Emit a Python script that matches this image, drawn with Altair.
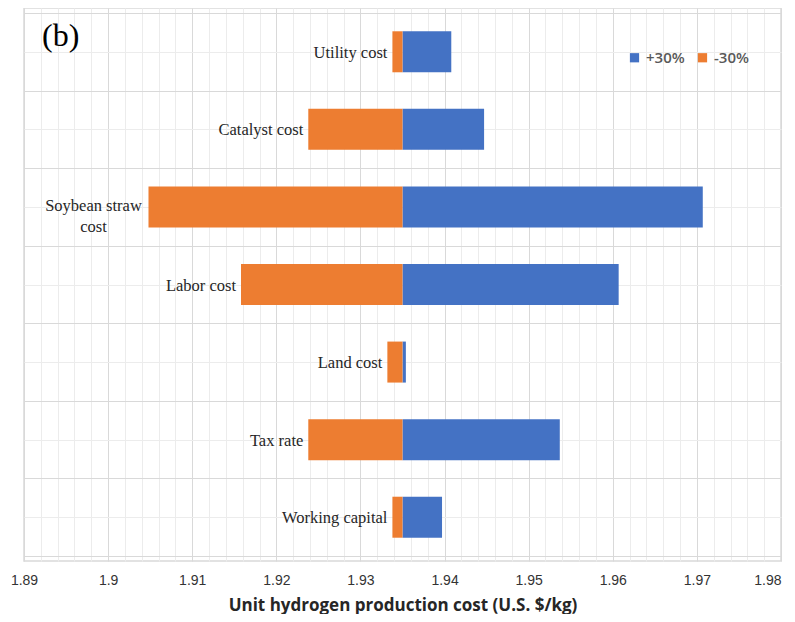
import altair as alt
import pandas as pd

# ---- data ----
categories = ["Utility cost", "Catalyst cost", "Soybean straw cost", "Labor  cost",
              "Land cost", "Tax rate", "Working capital"]
base_cost = 1.935
plus30 = [1.9408, 1.9447, 1.9707, 1.9607, 1.9354, 1.9537, 1.9397]
minus30 = [1.9338, 1.9238, 1.9048, 1.9158, 1.9332, 1.9238, 1.9338]
series_names = ["+30%", "-30%"]
series_colors = ["#4472C4", "#ED7D31"]

rows = []
for i, c in enumerate(categories):
    rows.append({"cat": c, "idx": i, "series": "+30%", "start": base_cost, "end": plus30[i]})
    rows.append({"cat": c, "idx": i, "series": "-30%", "start": base_cost, "end": minus30[i]})
bars_df = pd.DataFrame(rows)
lab_df = pd.DataFrame({"cat": categories, "idx": list(range(len(categories))),
                       "low": [min(a, b) for a, b in zip(plus30, minus30)]})

x_ticks = [round(1.89 + k * 0.002, 3) for k in range(46)]
y_ticks = [k * 0.5 for k in range(15)]
major_x = "abs(datum.value*100 - round(datum.value*100)) < 0.001"

x_scale = alt.Scale(domain=[1.89, 1.98], nice=False, zero=False)
y_scale = alt.Scale(domain=[0, 7], reverse=True, nice=False, zero=False)

x_axis = alt.Axis(values=x_ticks, tickCount=200, ticks=False, domain=False, labelFlush=False,
                  labelOverlap=False,
                  labelExpr=major_x + " ? toString(round(datum.value*100)/100) : ''",
                  labelAlign={"condition": {"test": "datum.value > 1.979", "value": "right"},
                              "value": "center"},
                  gridColor={"condition": {"test": major_x, "value": "#d9d9d9"}, "value": "#ececec"},
                  labelFont="Liberation Sans", labelFontSize=14, labelColor="#333333",
                  labelPadding=12,
                  title="Unit hydrogen production cost (U.S. $/kg)", titleFont="Open Sans",
                  titleFontSize=17, titleFontWeight="bold", titleColor="#262626", titlePadding=10)
y_axis = alt.Axis(values=y_ticks, tickCount=100, ticks=False, domain=False, labels=False, title=None,
                  gridColor={"condition": {"test": "datum.value % 1 == 0", "value": "#d9d9d9"},
                             "value": "#ececec"})

bars = alt.Chart(bars_df).transform_calculate(pos="datum.idx + 0.5").mark_bar(size=41).encode(
    x=alt.X("start:Q", scale=x_scale, axis=x_axis),
    x2="end:Q",
    y=alt.Y("pos:Q", scale=y_scale, axis=y_axis),
    color=alt.Color("series:N", scale=alt.Scale(domain=series_names, range=series_colors),
                    legend=alt.Legend(title=None, orient="none", legendX=603, legendY=42,
                                      direction="horizontal", symbolType="square", symbolSize=85,
                                      labelFont="Open Sans", labelFontSize=15, labelFontWeight=600,
                                      labelColor="#595959", labelOffset=4,
                                      columnPadding=10, padding=0, symbolStrokeWidth=0)),
)

single = lab_df[lab_df["cat"] != "Soybean straw cost"]
multi = lab_df[lab_df["cat"] == "Soybean straw cost"].copy()
multi["cat"] = ["Soybean straw\ncost"]

labels = alt.Chart(single).transform_calculate(pos="datum.idx + 0.5").mark_text(
    align="right", baseline="middle", dx=-5, dy=1, font="Liberation Serif", fontSize=16.5,
    color="#262626"
).encode(x=alt.X("low:Q", scale=x_scale), y=alt.Y("pos:Q", scale=y_scale), text="cat:N")

labels2 = alt.Chart(multi).transform_calculate(pos="datum.idx + 0.5").mark_text(
    align="center", baseline="middle", dx=-55, dy=-1, font="Liberation Serif", fontSize=16.5,
    color="#262626", lineBreak="\n", lineHeight=21
).encode(x=alt.X("low:Q", scale=x_scale), y=alt.Y("pos:Q", scale=y_scale), text="cat:N")

panel = alt.Chart(pd.DataFrame({"t": ["(b)"]})).mark_text(
    align="left", baseline="alphabetic", font="Liberation Serif", fontSize=32, color="#000000"
).encode(x=alt.value(18), y=alt.value(38), text="t:N")

chart = alt.layer(bars, labels, labels2, panel).properties(
    width=757, height=553,
    autosize=alt.AutoSizeParams(type="none"),
    padding={"left": 16, "top": 0, "right": 6, "bottom": 53},
).configure_view(stroke="#d9d9d9", strokeWidth=1.5)

chart.save("out.html", embed_options={"renderer": "svg", "actions": False})
